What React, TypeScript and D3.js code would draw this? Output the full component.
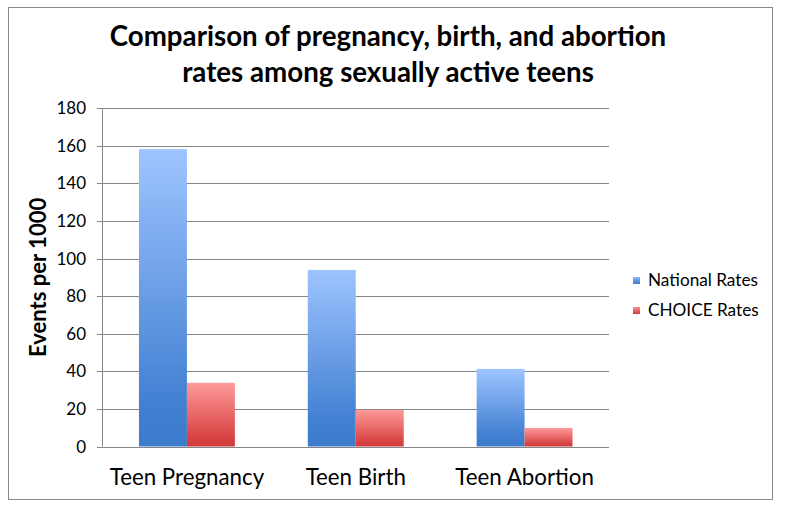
import React from "react";
import * as d3 from "d3";

const categories = ["Teen Pregnancy", "Teen Birth", "Teen Abortion"];
const seriesNames = ["National Rates", "CHOICE Rates"];
const nationalRates = [158.3, 94, 41.3];
const choiceRates = [33.9, 19.5, 9.9];
const yTicks = [0, 20, 40, 60, 80, 100, 120, 140, 160, 180];
const titleLines = [
  "Comparison of pregnancy, birth, and abortion",
  "rates among sexually active teens",
];
const yTitle = "Events per 1000";

const W = 788;
const H = 513;
const plot = { left: 102.5, right: 609, top: 108.3, bottom: 446.5 };
const font = "Lato, 'Open Sans', sans-serif";

export default function App() {
  const x0 = d3
    .scaleBand<string>()
    .domain(categories)
    .range([plot.left, plot.right])
    .paddingInner(0)
    .paddingOuter(0);
  const inner = d3
    .scaleBand<string>()
    .domain(seriesNames)
    .range([0, x0.bandwidth()])
    .paddingInner(0)
    .paddingOuter(0.76);
  const y = d3.scaleLinear().domain([0, 180]).range([plot.bottom, plot.top]);
  const series = [nationalRates, choiceRates];
  const grads = ["gradBlue", "gradRed"];

  return (
    <svg width={W} height={H} style={{ position: "absolute", left: 0, top: 0 }}>
      <defs>
        <linearGradient id="gradBlue" x1="0" y1="0" x2="0" y2="1">
          <stop offset="0" stopColor="#9ec4ff" />
          <stop offset="0.85" stopColor="#4280d2" />
          <stop offset="1" stopColor="#3d7bcd" />
        </linearGradient>
        <linearGradient id="gradRed" x1="0" y1="0" x2="0" y2="1">
          <stop offset="0" stopColor="#ff9a9a" />
          <stop offset="0.85" stopColor="#d84444" />
          <stop offset="1" stopColor="#d03c3c" />
        </linearGradient>
        <linearGradient id="legBlue" x1="0" y1="0" x2="0" y2="1">
          <stop offset="0" stopColor="#8db7f5" />
          <stop offset="1" stopColor="#3d7bcd" />
        </linearGradient>
        <linearGradient id="legRed" x1="0" y1="0" x2="0" y2="1">
          <stop offset="0" stopColor="#ff9090" />
          <stop offset="1" stopColor="#d03c3c" />
        </linearGradient>
      </defs>
      <rect x={0} y={0} width={W} height={H} fill="#fff" />
      <rect x={8.5} y={7.5} width={764} height={492} fill="#fff" stroke="#888" strokeWidth={1} />

      {titleLines.map((t, i) => (
        <text
          key={i}
          x={388}
          y={46 + i * 35.5}
          textAnchor="middle"
          fontFamily={font}
          fontWeight="bold"
          fontSize={27.7}
          fill="#000"
        >
          {t}
        </text>
      ))}

      {yTicks.map((t) => (
        <g key={t}>
          <line x1={97} x2={plot.right} y1={Math.round(y(t)) + 0.5} y2={Math.round(y(t)) + 0.5} stroke="#868686" strokeWidth={1} />
          <text x={86} y={y(t) + 6} textAnchor="end" fontFamily={font} fontSize={17} fill="#000">
            {t}
          </text>
        </g>
      ))}
      <line x1={plot.left} x2={plot.left} y1={plot.top} y2={plot.bottom} stroke="#868686" strokeWidth={1} />

      <text
        transform={`translate(46,${(plot.top + plot.bottom) / 2}) rotate(-90)`}
        textAnchor="middle"
        fontFamily={font}
        fontWeight="bold"
        fontSize={22}
        fill="#000"
      >
        {yTitle}
      </text>

      {categories.map((c, ci) => (
        <g key={c}>
          {series.map((s, si) => (
            <rect
              key={si}
              x={(x0(c) as number) + (inner(seriesNames[si]) as number)}
              y={y(s[ci])}
              width={inner.bandwidth()}
              height={plot.bottom - y(s[ci])}
              fill={`url(#${grads[si]})`}
            />
          ))}
          <text
            x={(x0(c) as number) + x0.bandwidth() / 2}
            y={485}
            textAnchor="middle"
            fontFamily={font}
            fontSize={22.3}
            fill="#000"
          >
            {c}
          </text>
        </g>
      ))}

      {seriesNames.map((n, i) => (
        <g key={n} transform={`translate(633,${286 + i * 30})`}>
          <rect x={0} y={-9} width={7} height={7} fill={`url(#${i === 0 ? "legBlue" : "legRed"})`} />
          <text x={15} y={0} fontFamily={font} fontSize={17.2} fill="#000">
            {n}
          </text>
        </g>
      ))}
    </svg>
  );
}
